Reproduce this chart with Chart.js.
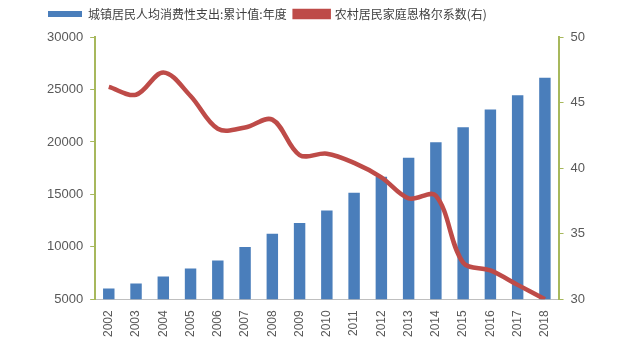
<!DOCTYPE html>
<html>
<head>
<meta charset="utf-8">
<script src="https://cdn.jsdelivr.net/npm/chart.js@4/dist/chart.umd.min.js"></script>
<style>
    html, body { margin: 0; padding: 0; background: #ffffff; }
    #wrap { width: 640px; height: 350px; position: relative; }
</style>
</head>
<body>
<div id="wrap"><canvas id="chart"></canvas></div>
<script>
// Data
const years = ["2002", "2003", "2004", "2005", "2006", "2007", "2008", "2009", "2010",
    "2011", "2012", "2013", "2014", "2015", "2016", "2017", "2018"];
const urbanSpending = [6030, 6511, 7182, 7943, 8697, 9997, 11243, 12265, 13471,
    15161, 16674, 18488, 19968, 21392, 23079, 24445, 26112];
const ruralEngel = [46.2, 45.6, 47.3, 45.5, 43.0, 43.1, 43.7, 41.0, 41.1,
    40.4, 39.3, 37.7, 37.9, 32.8, 32.2, 31.1, 30.0];
const leftTicks = [5000, 10000, 15000, 20000, 25000, 30000];
const rightTicks = [30, 35, 40, 45, 50];

const AXIS_GREEN = "#a7b85c";
const TEXT_GREY = "#595959";

// leave some room between the legend and the plot
const legendGap = {
    id: "legendGap",
    beforeInit(chart) {
        const fit = chart.legend.fit;
        chart.legend.fit = function () {
            fit.call(this);
            this.height += 7;
        };
    }
};

const ctx = document.getElementById("chart").getContext("2d");
new Chart(ctx, {
    data: {
        labels: years,
        datasets: [{
            type: "bar",
            label: "城镇居民人均消费性支出:累计值:年度",
            data: urbanSpending,
            yAxisID: "y",
            backgroundColor: "#4a7ebb",
            borderWidth: 0,
            barPercentage: 0.42,
            categoryPercentage: 1,
            order: 1
        }, {
            type: "line",
            label: "农村居民家庭恩格尔系数(右)",
            data: ruralEngel,
            yAxisID: "y1",
            borderColor: "#be4b48",
            backgroundColor: "#be4b48",
            borderWidth: 4.5,
            pointRadius: 0,
            tension: 0.35,
            order: 0
        }]
    },
    options: {
        responsive: true,
        maintainAspectRatio: false,
        animation: false,
        layout: { padding: { left: 40, right: 48, top: 0, bottom: 10 } },
        plugins: {
            legend: {
                align: "start",
                labels: {
                    sort: (a, b) => a.datasetIndex - b.datasetIndex,
                    boxWidth: 34,
                    boxHeight: 6,
                    padding: 8,
                    color: "#404040",
                    font: { family: "'Noto Sans CJK SC'", size: 12 }
                }
            },
            tooltip: { enabled: false }
        },
        scales: {
            x: {
                offset: true,
                grid: { display: false },
                border: { color: "#bfbfbf", width: 1 },
                ticks: {
                    color: TEXT_GREY,
                    minRotation: 90,
                    maxRotation: 90,
                    font: { family: "'Liberation Sans'", size: 12 }
                }
            },
            y: {
                position: "left",
                min: 5000,
                max: 30000,
                afterBuildTicks: axis => { axis.ticks = leftTicks.map(v => ({ value: v })); },
                grid: { drawOnChartArea: false, color: AXIS_GREEN, tickLength: 5, lineWidth: 1 },
                border: { color: AXIS_GREEN, width: 2 },
                ticks: {
                    color: TEXT_GREY,
                    padding: 7,
                    callback: v => String(v),
                    font: { family: "'Liberation Sans'", size: 13 }
                }
            },
            y1: {
                position: "right",
                min: 30,
                max: 50,
                afterBuildTicks: axis => { axis.ticks = rightTicks.map(v => ({ value: v })); },
                grid: { drawOnChartArea: false, color: AXIS_GREEN, tickLength: 5, lineWidth: 1 },
                border: { color: AXIS_GREEN, width: 2 },
                ticks: {
                    color: TEXT_GREY,
                    padding: 7,
                    callback: v => String(v),
                    font: { family: "'Liberation Sans'", size: 13 }
                }
            }
        }
    },
    plugins: [legendGap]
});
</script>
</body>
</html>
